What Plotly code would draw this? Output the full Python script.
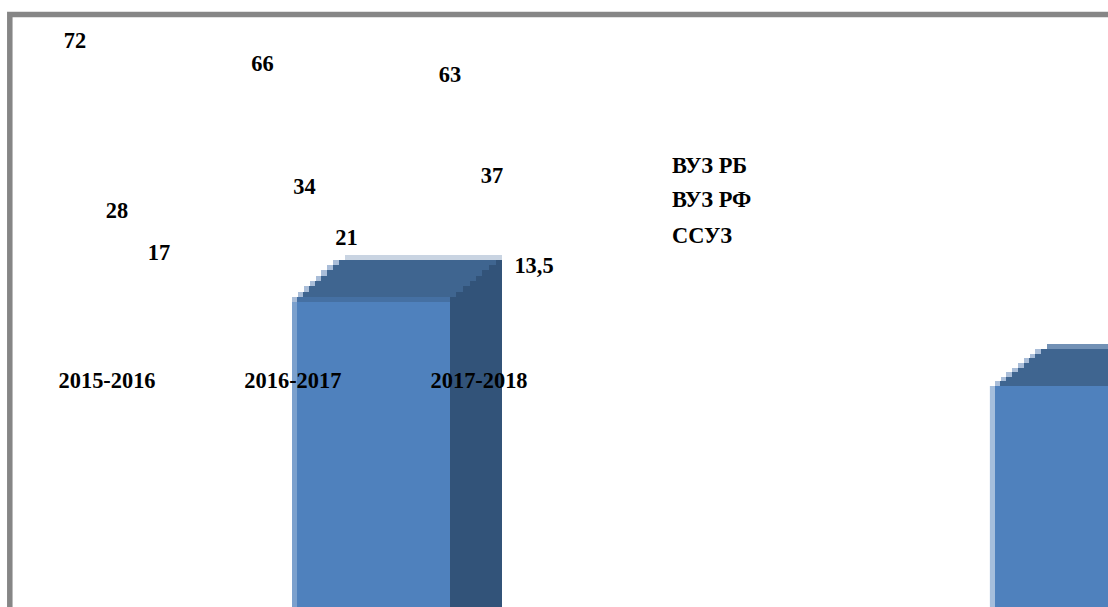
import plotly.graph_objects as go

categories = ["2015-2016", "2016-2017", "2017-2018"]
series_names = ["ВУЗ РБ", "ВУЗ РФ", "ССУЗ"]
vuz_rb = [72, 66, 63]
vuz_rf = [28, 34, 37]
ssuz = [17, 21, 13.5]
bar_centers = [1.581, 5.301]
bar_heights = [85.4, 62.4]
category_ticks = [0.171, 1.162, 2.155]

W, H = 1108, 607
PX_CAT = 187.5          # pixels per category
PX_VAL = 3.86           # pixels per value unit
X0, Y0 = 75.0, 320.0    # pixel of category 0, value 0
FLOOR = -80.0
SERIES_OFFSET = 42 / PX_CAT
FONT = "Liberation Serif"
BAR_WIDTH = 158 / PX_CAT
BAR_SHIFT = 2 / PX_VAL


def X(px):
    return (px - X0) / PX_CAT


def Y(py):
    return (Y0 - py) / PX_VAL


def px_of_x(x):
    return X0 + x * PX_CAT


def px_of_y(y):
    return Y0 - y * PX_VAL


def poly(points, color):
    return go.Scatter(
        x=[X(p[0]) for p in points], y=[Y(p[1]) for p in points],
        mode="lines", fill="toself", fillcolor=color, line=dict(width=0),
        hoverinfo="skip", showlegend=False,
    )


def stairs(x_start, y_start, x_end, y_end, n=8):
    pts = [(x_start, y_start)]
    for i in range(1, n + 1):
        xa = round(x_start + (x_end - x_start) * i / n)
        ya = round(y_start + (y_end - y_start) * i / n)
        pts.append((pts[-1][0], ya))
        pts.append((xa, ya))
    return pts


fig = go.Figure()

# Front faces
fig.add_trace(go.Bar(
    x=bar_centers, y=bar_heights, base=[FLOOR + BAR_SHIFT] * len(bar_heights), width=BAR_WIDTH,
    marker=dict(color="#4f81bd", line=dict(width=0)), hoverinfo="skip", showlegend=False,
))

strip_colors = ["#c9d4e2", "#7291b5"]
side_strip = ["#7ba0cd", "#a5bedc"]
has_lip = [True, False]
run = [53, 57]

for i in range(len(bar_centers)):
    L = round(px_of_x(bar_centers[i] - BAR_WIDTH / 2))
    R = L + 158
    T = round(px_of_y(FLOOR + BAR_SHIFT + bar_heights[i]))
    r = run[i]
    lip = 5 if has_lip[i] else 0
    inset = 0 if has_lip[i] else 5
    # light stepped edge
    edge = stairs(L + inset, T + lip, L + r - 6, T - 37)
    edge += [(L + r, T - 37), (L + r, T + lip), (L + 5, T + lip)]
    fig.add_trace(poly(edge, "#a9bdd8"))
    # side face
    fig.add_trace(poly([(R, T - 37), (R + 52, T - 37), (R + 52, H + 5), (R, H + 5)], "#325379"))
    # top face
    top = stairs(L + 5 + inset, T + lip, L + r, T - 37) + [(R + 52, T - 37)]
    top += [(a, b) for a, b in reversed(stairs(R, T + lip, R + 52, T - 37))]
    fig.add_trace(poly(top, "#3f6590"))
    # light back edge
    fig.add_trace(poly([(L + r, T - 42), (R + 52, T - 42), (R + 52, T - 37), (L + r, T - 37)], strip_colors[i]))
    # front lip and left strip
    if has_lip[i]:
        fig.add_trace(poly([(L + 5, T), (R, T), (R, T + 5), (L + 5, T + 5)], "#4570a3"))
    fig.add_trace(poly([(L, T + lip), (L + 5, T + lip), (L + 5, H + 5), (L, H + 5)], side_strip[i]))

# Data labels
for s, values in enumerate([vuz_rb, vuz_rf, ssuz]):
    fig.add_trace(go.Scatter(
        x=[c + s * SERIES_OFFSET for c in range(len(categories))], y=values,
        mode="text", text=[str(v).replace(".", ",") for v in values],
        textposition="middle center",
        textfont=dict(family=FONT, size=22.4, color="#000000", weight="bold"),
        hoverinfo="skip", showlegend=False, cliponaxis=False,
    ))

annotations = [
    dict(xref="paper", yref="paper", x=670 / W, y=1 - py / H, text=f"<b>{name}</b>",
         showarrow=False, xanchor="left", yanchor="middle",
         font=dict(family=FONT, size=22.4, color="#000000"))
    for name, py in zip(series_names, [165, 200, 235])
]

fig.update_layout(
    width=W, height=H, margin=dict(l=0, r=0, t=0, b=0),
    paper_bgcolor="#ffffff", plot_bgcolor="#ffffff", showlegend=False,
    font=dict(family=FONT, color="#000000"),
    annotations=annotations,
    shapes=[dict(type="rect", xref="paper", yref="paper", x0=9.8 / W, x1=1.1,
                 y0=-0.1, y1=1 - 14.5 / H, line=dict(color="#868686", width=5.5),
                 fillcolor="rgba(0,0,0,0)", layer="above")],
    xaxis=dict(range=[X(0), X(W)], tickmode="array",
               tickvals=category_ticks,
               ticktext=[f"<b>{c}</b>" for c in categories],
               tickfont=dict(family=FONT, size=22.4, color="#000000"),
               ticks="", showgrid=False, zeroline=False, showline=False,
               anchor="free", position=(H - 365) / H, fixedrange=True),
    yaxis=dict(range=[Y(H), Y(0)], visible=False, showgrid=False, zeroline=False, fixedrange=True),
)

fig.write_html("out.html", config={"displayModeBar": False},
               post_script="document.body.style.margin='0';")
